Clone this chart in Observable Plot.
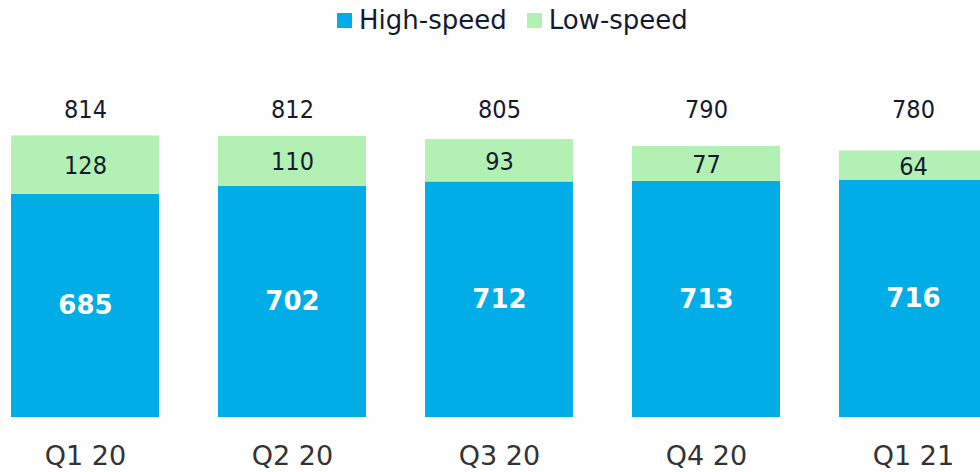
<!DOCTYPE html>
<html>
<head>
<meta charset="utf-8">
<script src="https://cdn.jsdelivr.net/npm/d3@7"></script>
<script src="https://cdn.jsdelivr.net/npm/@observablehq/plot@0.6"></script>
<style>
  html, body { margin: 0; padding: 0; background: white; overflow: hidden; }
  #wrap { position: relative; width: 980px; height: 472px; }
  #legend { position: absolute; top: 5px; left: 337px; display: flex; align-items: center;
    font-family: "DejaVu Sans", sans-serif; font-size: 26px; color: #141a30; white-space: nowrap; }
  #legend .item { display: flex; align-items: center; margin-right: 20px; }
  #legend .sw { width: 15px; height: 15px; margin-right: 7px; }
</style>
</head>
<body>
<div id="wrap"><div id="legend"></div></div>
<script>
const categories = ["Q1 20", "Q2 20", "Q3 20", "Q4 20", "Q1 21"];
const highSpeed = [685, 702, 712, 713, 716];
const lowSpeed = [128, 110, 93, 77, 64];
const totals = [814, 812, 805, 790, 780];
const seriesNames = ["High-speed", "Low-speed"];
const seriesColors = ["#00ADE6", "#B2F0B4"];

const yMin = 195;
const rows = categories.map((c, i) => ({cat: c, high: highSpeed[i], low: lowSpeed[i], total: totals[i]}));

const legend = document.getElementById("legend");
seriesNames.forEach((s, i) => {
  const it = document.createElement("div");
  it.className = "item";
  it.innerHTML = `<div class="sw" style="background:${seriesColors[i]}"></div><span>${s}</span>`;
  legend.appendChild(it);
});

const chart = Plot.plot({
  width: 980,
  height: 472,
  marginTop: 135,
  marginBottom: 55,
  marginLeft: 11,
  marginRight: 0,
  style: {fontFamily: "DejaVu Sans, sans-serif", color: "#333", background: "transparent"},
  x: {domain: categories, range: [11, 987], paddingInner: 0.285, paddingOuter: 0, round: false, label: null},
  y: {domain: [yMin, 814], axis: null},
  marks: [
    Plot.barY(rows, {x: "cat", y1: () => yMin, y2: "high", fill: seriesColors[0]}),
    Plot.barY(rows, {x: "cat", y1: "high", y2: d => d.high + d.low, fill: seriesColors[1]}),
    Plot.text(rows, {x: "cat", y: d => (yMin + d.high) / 2, text: "high", fill: "white",
      fontWeight: "bold", fontSize: 26, fontFamily: "DejaVu Sans"}),
    Plot.text(rows, {x: "cat", y: d => d.high + d.low / 2, text: "low", fill: "#141a30",
      fontSize: 25, fontFamily: "DejaVu Sans Condensed, DejaVu Sans", dy: 1}),
    Plot.text(rows, {x: "cat", frameAnchor: "top", lineAnchor: "middle", dy: -26, text: "total", fill: "#141a30",
      fontSize: 25, fontFamily: "DejaVu Sans Condensed, DejaVu Sans"}),
    Plot.axisX({tickSize: 0, tickPadding: 28, fontSize: 27, label: null})
  ]
});
document.getElementById("wrap").prepend(chart);
</script>
</body>
</html>
